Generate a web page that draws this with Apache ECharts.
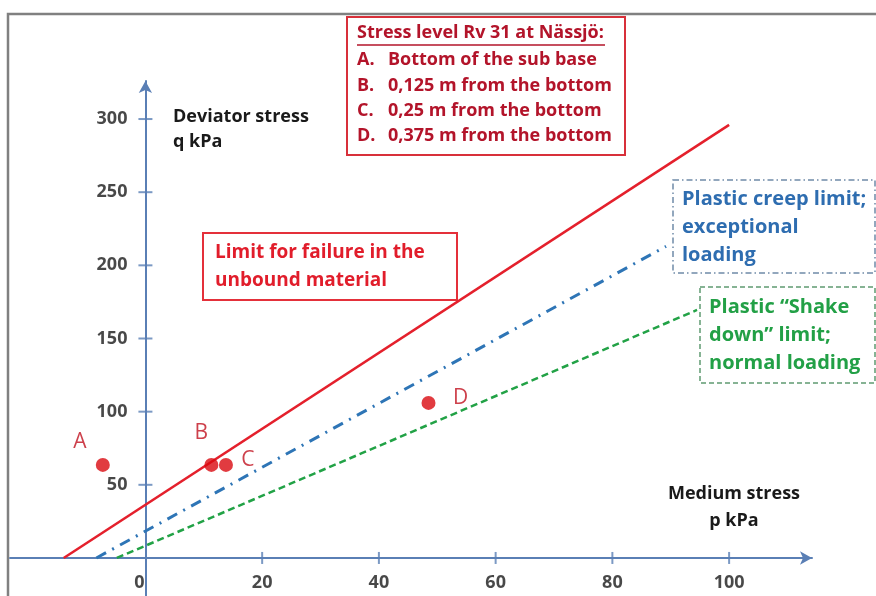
<!DOCTYPE html>
<html>
<head>
<meta charset="utf-8">
<script src="https://cdn.jsdelivr.net/npm/echarts@6/dist/echarts.min.js"></script>
<style>
  html, body { margin: 0; padding: 0; background: #ffffff; }
  #chart { width: 876px; height: 596px; }
</style>
</head>
<body>
<div id="chart"></div>
<script>
// Axis ticks (kPa)
const pTicks = [0, 20, 40, 60, 80, 100];
const qTicks = [50, 100, 150, 200, 250, 300];

// Stress points at Rv 31, Nässjö (p, q in kPa)
const pointNames = ['A', 'B', 'C', 'D'];
const pointP = [-7.3, 11.3, 13.8, 48.5];
const pointQ = [63.6, 63.6, 63.6, 106];

// Limit lines: end points (p, q)
const failureP = [-14, 100];
const failureQ = [0, 296];
const creepP = [-8.4, 89.2];
const creepQ = [0, 213];
const shakeP = [-4.9, 94.5];
const shakeQ = [0, 169.5];

const FONT = '"Open Sans", Lato, sans-serif';
const axisColor = '#5a7fb5';
const tickText = { color: '#1a1a1a', fontFamily: FONT, fontWeight: 'bold', fontSize: 18 };

const pair = (xs, ys) => xs.map((x, i) => [x, ys[i]]);

const labelOffsets = { A: [-23, -23], B: [-10, -32], C: [22, -5], D: [32, -5] };

const chart = echarts.init(document.getElementById('chart'), null, { renderer: 'canvas' });

const txt = (x, y, text, size, color, align) => ({
  type: 'text', x: x, y: y, silent: true,
  style: { text: text, font: 'bold ' + size + 'px ' + FONT, fill: color, textAlign: align || 'left', textVerticalAlign: 'middle' }
});

chart.setOption({
  backgroundColor: '#ffffff',
  animation: false,
  grid: { left: 10, top: 81, width: 802, height: 515, containLabel: false, outerBoundsMode: 'none' },
  xAxis: {
    type: 'value', min: -23.2, max: 114.2,
    splitLine: { show: false },
    axisLine: { onZero: true, lineStyle: { color: axisColor, width: 2 }, symbol: ['none', 'arrow'], symbolSize: [10, 12] },
    axisTick: { show: false },
    axisLabel: { show: false }
  },
  yAxis: {
    type: 'value', min: -26, max: 326,
    splitLine: { show: false },
    axisLine: { onZero: true, lineStyle: { color: axisColor, width: 2 }, symbol: ['none', 'arrow'], symbolSize: [10, 12] },
    axisTick: { show: false },
    axisLabel: { show: false }
  },
  series: [
    // crossing tick marks on the p axis, with their labels below
    {
      name: 'pTicks', type: 'scatter', silent: true, z: 3,
      symbol: 'rect', symbolSize: [2, 12],
      itemStyle: { color: axisColor },
      data: pTicks.map(v => ({
        value: [v, 0],
        symbolSize: v === 0 ? 0 : [2, 12],
        label: {
          show: true, position: 'inside', offset: [v === 0 ? -6 : 0, 25],
          formatter: String(v), ...tickText
        }
      }))
    },
    // crossing tick marks on the q axis, with their labels to the left
    {
      name: 'qTicks', type: 'scatter', silent: true, z: 3,
      symbol: 'rect', symbolSize: [14, 2],
      itemStyle: { color: axisColor },
      data: qTicks.map(v => ({
        value: [0, v],
        label: {
          show: true, position: 'left', distance: 11,
          formatter: String(v), ...tickText
        }
      }))
    },
    {
      name: 'Limit for failure', type: 'line', silent: true, symbol: 'none',
      lineStyle: { color: '#e4202c', width: 2.5 },
      data: pair(failureP, failureQ)
    },
    {
      name: 'Plastic creep limit', type: 'line', silent: true, symbol: 'none',
      lineStyle: { color: '#2e75b6', width: 3, type: [11, 7, 2, 7] },
      data: pair(creepP, creepQ)
    },
    {
      name: 'Plastic shake down limit', type: 'line', silent: true, symbol: 'none',
      lineStyle: { color: '#22a246', width: 2.5, type: [7, 4] },
      data: pair(shakeP, shakeQ)
    },
    {
      name: 'Stress level', type: 'scatter', silent: true, z: 4,
      symbol: 'circle', symbolSize: 14,
      itemStyle: { color: '#d90a10' },
      data: pointNames.map((n, i) => ({
        name: n,
        value: [pointP[i], pointQ[i]],
        label: {
          show: true, position: 'inside', offset: labelOffsets[n],
          formatter: '{b}', color: '#c0101e', fontFamily: FONT, fontSize: 21
        }
      }))
    }
  ],
  graphic: [
    // outer frame
    { type: 'rect', silent: true, shape: { x: 8, y: 14, width: 900, height: 700 }, style: { fill: 'none', stroke: '#808080', lineWidth: 2.5 } },
    // axis titles
    txt(173, 117, 'Deviator stress', 18, '#1a1a1a'),
    txt(173, 142, 'q kPa', 18, '#1a1a1a'),
    txt(734, 494, 'Medium stress', 18, '#1a1a1a', 'center'),
    txt(734, 521, 'p kPa', 18, '#1a1a1a', 'center'),
    // site legend box
    { type: 'rect', silent: true, shape: { x: 347, y: 17, width: 278, height: 138 }, style: { fill: '#ffffff', stroke: '#d8303a', lineWidth: 2 } },
    txt(357, 33, 'Stress level Rv 31 at Nässjö:', 18, '#b3142a'),
    { type: 'line', silent: true, shape: { x1: 357, y1: 45, x2: 605, y2: 45 }, style: { stroke: '#b3142a', lineWidth: 1.5 } },
    txt(357, 60, 'A.', 18, '#b3142a'),
    txt(388, 60, 'Bottom of the sub base', 18, '#b3142a'),
    txt(357, 86, 'B.', 18, '#b3142a'),
    txt(388, 86, '0,125 m from the bottom', 18, '#b3142a'),
    txt(357, 111, 'C.', 18, '#b3142a'),
    txt(388, 111, '0,25 m from the bottom', 18, '#b3142a'),
    txt(357, 136, 'D.', 18, '#b3142a'),
    txt(388, 136, '0,375 m from the bottom', 18, '#b3142a'),
    // failure limit label
    { type: 'rect', silent: true, shape: { x: 203, y: 233, width: 254, height: 67 }, style: { fill: '#ffffff', stroke: '#e4303a', lineWidth: 2 } },
    txt(215, 253, 'Limit for failure in the', 19, '#e11d2b'),
    txt(215, 281, 'unbound material', 19, '#e11d2b'),
    // creep limit label
    { type: 'rect', silent: true, shape: { x: 673, y: 180, width: 202, height: 93 }, style: { fill: '#ffffff', stroke: '#6f8aa8', lineWidth: 1.5, lineDash: [6, 3, 1.5, 3] } },
    txt(682, 199, 'Plastic creep limit;', 20, '#2e6db0'),
    txt(682, 227, 'exceptional', 20, '#2e6db0'),
    txt(682, 255, 'loading', 20, '#2e6db0'),
    // shake down limit label
    { type: 'rect', silent: true, shape: { x: 700, y: 287, width: 175, height: 96 }, style: { fill: '#ffffff', stroke: '#5f9a72', lineWidth: 1.5, lineDash: [5, 3] } },
    txt(709, 307, 'Plastic \u201cShake', 20, '#22a046'),
    txt(709, 335, 'down\u201d limit;', 20, '#22a046'),
    txt(709, 363, 'normal loading', 20, '#22a046')
  ]
});
</script>
</body>
</html>
